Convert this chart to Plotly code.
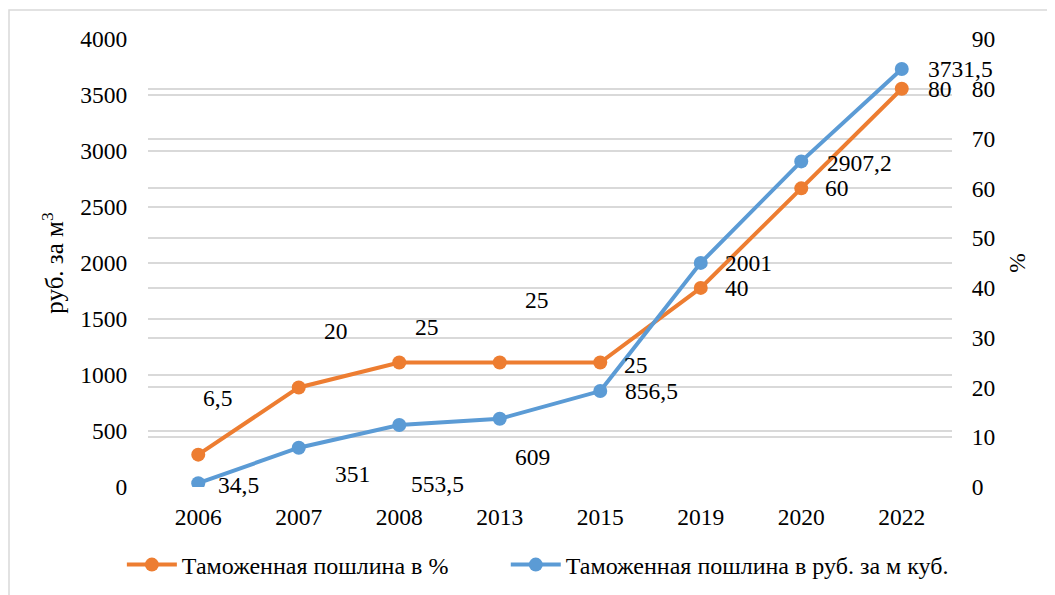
import plotly.graph_objects as go

years = ["2006", "2007", "2008", "2013", "2015", "2019", "2020", "2022"]
duty_pct = [6.5, 20, 25, 25, 25, 40, 60, 80]
duty_rub = [34.5, 351, 553.5, 609, 856.5, 2001, 2907.2, 3731.5]

name_pct = "Таможенная пошлина в %"
name_rub = "Таможенная пошлина в руб. за м куб."

# label offsets (px) relative to each point (style, not data)
pct_dx = [3, 23, 14, 23, 22, 22, 22, 24]
pct_dy = [57, 56, 36, 63, -2, 0, 0, 0]
rub_dx = [18, 34, 10, 13, 23, 22, 24, 24]
rub_dy = [-2, -26, -59, -38, 0, 0, -2, 0]

ORANGE = "#ED7D31"
BLUE = "#5B9BD5"
GRID = "#D9D9D9"
FONT = "Liberation Serif, Times New Roman, serif"
FS = 23.5

def fmt(v):
    return f"{v:g}".replace(".", ",")

fig = go.Figure()
fig.add_trace(go.Scatter(
    x=years, y=duty_pct, name=name_pct, xaxis="x", yaxis="y", mode="lines+markers",
    line=dict(color=ORANGE, width=4), marker=dict(color=ORANGE, size=14),
    legend="legend",
))
fig.add_trace(go.Scatter(
    x=years, y=duty_rub, name=name_rub, xaxis="x", yaxis="y2", mode="lines+markers",
    line=dict(color=BLUE, width=4), marker=dict(color=BLUE, size=14),
    legend="legend2",
))

annotations = []
for i, v in enumerate(duty_pct):
    annotations.append(dict(x=i, y=v, xref="x", yref="y", text=fmt(v),
                            showarrow=False, xanchor="left", yanchor="middle",
                            xshift=pct_dx[i], yshift=pct_dy[i],
                            font=dict(family=FONT, size=FS, color="#000")))
for i, v in enumerate(duty_rub):
    annotations.append(dict(x=i, y=v, xref="x", yref="y2", text=fmt(v),
                            showarrow=False, xanchor="left", yanchor="middle",
                            xshift=rub_dx[i], yshift=rub_dy[i],
                            font=dict(family=FONT, size=FS, color="#000")))

legend_common = dict(orientation="h", xanchor="left", y=-78 / 448, yanchor="middle",
                     font=dict(family=FONT, size=24, color="#000"), itemwidth=50,
                     bgcolor="rgba(0,0,0,0)")

fig.update_layout(
    width=1047, height=587,
    margin=dict(l=140, r=103, t=31, b=108, autoexpand=False),
    paper_bgcolor="white", plot_bgcolor="white",
    font=dict(family=FONT, size=FS, color="#000"),
    showlegend=True,
    legend=dict(x=-0.0325, **legend_common),
    legend2=dict(x=0.445, **legend_common),
    xaxis=dict(type="category", categoryorder="array", categoryarray=years,
               range=[-0.5, len(years) - 0.5],
               showgrid=False, showline=False, zeroline=False,
               ticks="outside", ticklen=9, tickcolor="rgba(0,0,0,0)",
               tickfont=dict(family=FONT, size=FS)),
    yaxis=dict(side="right", range=[0, 90], dtick=10, showgrid=True, gridcolor=GRID,
               gridwidth=1.5, zeroline=False, showline=False,
               ticks="outside", ticklen=14, tickcolor="rgba(0,0,0,0)",
               tickfont=dict(family=FONT, size=FS),
               title=dict(text="%", font=dict(family=FONT, size=FS), standoff=14)),
    yaxis2=dict(side="left", overlaying="y", anchor="x", range=[0, 4000], dtick=500,
                showgrid=True, gridcolor=GRID, gridwidth=1.5, zeroline=False,
                showline=False, ticks="outside", ticklen=15, tickcolor="rgba(0,0,0,0)",
                tickfont=dict(family=FONT, size=FS),
                title=dict(text="руб. за м<sup>3</sup>", font=dict(family=FONT, size=25),
                           standoff=9)),
    annotations=annotations,
    shapes=[dict(type="rect", xref="paper", yref="paper",
                 x0=-139 / 804, x1=1.2, y0=-0.3, y1=1 + 29 / 448,
                 line=dict(color="#D9D9D9", width=1.5), fillcolor="rgba(0,0,0,0)",
                 layer="below")],
)

fig.write_html("out.html")
